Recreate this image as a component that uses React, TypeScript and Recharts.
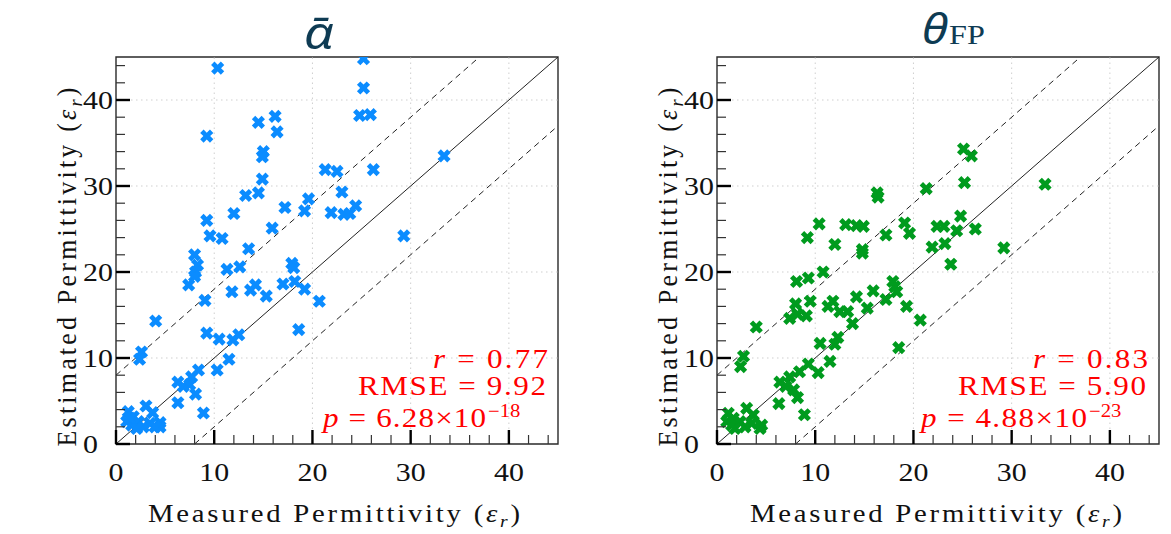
import React from 'react';
import { ScatterChart, Scatter, XAxis, YAxis, ReferenceLine, ReferenceArea } from 'recharts';

// ---------- data ----------
const alphaMeasured = [
  10.35, 9.24, 14.5, 16.2, 16.4, 15.0, 14.9, 14.9, 14.5, 13.2, 12.0, 17.2, 19.2, 19.6, 21.3, 22.5, 23.0, 21.9,
  9.24, 9.57, 10.8, 15.9, 13.5, 25.2, 25.2, 24.8, 25.9, 26.2, 23.2, 23.8, 24.4, 33.4, 29.3,
  8.0, 8.3, 8.1, 8.0, 7.4, 11.3, 12.6, 17.9, 18.1, 9.06, 4.04, 11.8, 13.7, 14.2, 15.3, 17.0, 18.2, 19.2, 20.7, 18.6,
  9.24, 10.5, 11.9, 12.5, 11.5, 10.3, 2.6, 2.4, 8.4, 7.7, 6.3, 6.85, 7.5, 8.1, 6.3, 8.9,
  1.25, 1.76, 3.05, 3.73, 1.09, 1.6, 2.27, 2.78, 3.46, 4.48, 4.48, 3.97, 2.1, 1.4,
];
const alphaEstimated = [
  43.7, 35.8, 37.4, 38.1, 36.3, 34.0, 33.4, 30.8, 29.2, 28.9, 26.8, 27.5, 27.1, 28.5, 31.9, 31.7, 29.3, 26.9,
  26.0, 24.2, 23.9, 25.1, 22.7, 44.8, 41.4, 38.2, 38.3, 31.9, 26.7, 26.8, 27.7, 33.5, 24.2,
  22.0, 20.8, 20.0, 19.5, 18.5, 20.3, 20.6, 21.0, 20.5, 16.7, 14.3, 17.7, 17.9, 18.5, 17.2, 18.6, 18.9, 18.0, 16.6, 13.3,
  12.9, 12.2, 12.1, 12.7, 9.85, 8.6, 10.7, 9.85, 8.6, 7.8, 7.2, 6.7, 6.9, 5.8, 4.8, 3.6,
  3.76, 3.17, 4.42, 3.64, 2.6, 2.2, 2.6, 2.0, 2.4, 2.48, 2.0, 2.0, 1.8, 3.0,
];
const thetaMeasured = [
  21.3, 16.3, 16.4, 10.4, 13.1, 14.2, 14.9, 9.2, 12.0, 17.2, 19.1, 19.6, 21.9, 22.4, 14.8, 14.8,
  25.1, 25.9, 25.2, 33.4, 24.8, 23.1, 24.4, 26.3, 23.2, 29.2, 23.8,
  10.8, 9.3, 8.1, 8.0, 7.4, 8.2, 9.1, 9.5, 4.0, 2.7, 2.4,
  11.3, 11.8, 12.5, 13.3, 13.8, 14.2, 15.3, 15.9, 17.2, 17.9, 18.1, 18.3, 19.3, 20.7, 18.5,
  10.5, 12.3, 12.0, 11.5, 10.3, 9.3, 8.4, 7.4, 6.4, 7.0, 7.8, 8.2, 6.3, 8.9,
  1.15, 1.66, 3.02, 3.7, 0.99, 1.5, 2.34, 2.85, 3.53, 4.55, 4.38, 1.83,
];
const thetaEstimated = [
  29.7, 29.2, 28.7, 25.6, 25.5, 25.4, 25.3, 24.0, 23.2, 24.3, 25.7, 24.5, 22.9, 25.3, 22.6, 22.2,
  34.3, 33.5, 30.4, 30.2, 26.5, 25.3, 24.8, 25.0, 23.3, 22.8, 20.9,
  20.0, 19.3, 18.9, 16.3, 14.6, 15.1, 14.9, 16.6, 13.6, 10.2, 9.0,
  16.0, 16.6, 15.4, 15.4, 14.0, 17.1, 15.8, 17.8, 16.8, 18.9, 18.3, 17.7, 16.0, 14.4, 11.2,
  11.7, 12.4, 11.6, 9.6, 8.3, 9.3, 8.4, 7.8, 7.2, 6.7, 6.3, 5.4, 4.7, 3.4,
  3.57, 2.99, 4.15, 3.37, 2.6, 2.2, 2.6, 2.0, 2.4, 2.2, 1.8, 1.8,
];

const axisDomain = [0, 45];
const majorTicks = [0, 10, 20, 30, 40];
const allTicks = [0, 2, 4, 6, 8, 10, 12, 14, 16, 18, 20, 22, 24, 26, 28, 30, 32, 34, 36, 38, 40, 42, 44];
const gridTicks = [10, 20, 30, 40];
const identityLine = [{ x: 0, y: 0 }, { x: 45, y: 45 }];
const upperBand = [{ x: 0, y: 8 }, { x: 37, y: 45 }];
const lowerBand = [{ x: 8, y: 0 }, { x: 45, y: 37 }];

const alphaStats = { r: '0.77', rmse: '9.92', p: '6.28', exp: '−18' };
const thetaStats = { r: '0.83', rmse: '5.90', p: '4.88', exp: '−23' };

const BLUE = '#0b8cff';
const GREEN = '#009b1e';
const RED = '#ff0000';
const TITLE = '#0e3b53';
const SERIF = 'Liberation Serif, DejaVu Serif, serif';
const SANS = 'Noto Sans, DejaVu Sans, sans-serif';
const SX = 1.15;

// ---------- marker ----------
const ARM = 2.4;
const LEN = 6.9;
const plusPts = [
  [ARM, LEN], [ARM, ARM], [LEN, ARM], [LEN, -ARM], [ARM, -ARM], [ARM, -LEN],
  [-ARM, -LEN], [-ARM, -ARM], [-LEN, -ARM], [-LEN, ARM], [-ARM, ARM], [-ARM, LEN],
];
const xPts = plusPts.map(([a, b]) => [(a - b) / Math.SQRT2, (a + b) / Math.SQRT2]);

const makeMarker = (color: string) => (props: any) => {
  const { cx, cy } = props;
  if (cx == null || cy == null) return <g />;
  const d = xPts.map(([a, b], i) => `${i ? 'L' : 'M'}${(cx + a).toFixed(2)} ${(cy + b).toFixed(2)}`).join(' ') + ' Z';
  return <path d={d} fill={color} />;
};

// ---------- ticks ----------
const XTick = (props: any) => {
  const { x, y, payload } = props;
  const v = payload.value;
  const major = majorTicks.includes(v);
  return (
    <g>
      <line x1={x} x2={x} y1={y} y2={y - (major ? 14 : 9)} stroke={major ? '#000' : '#333'} strokeWidth={major ? 2.4 : 1.2} />
      {major && (
        <text transform={`translate(${x} ${y + 37}) scale(${SX} 1)`} textAnchor="middle" fontSize={26} fontFamily={SERIF} fill="#111">
          {v}
        </text>
      )}
    </g>
  );
};

const YTick = (props: any) => {
  const { x, y, payload } = props;
  const v = payload.value;
  const major = majorTicks.includes(v);
  return (
    <g>
      <line x1={x} x2={x + (major ? 14 : 9)} y1={y} y2={y} stroke={major ? '#000' : '#333'} strokeWidth={major ? 2.4 : 1.2} />
      {major && (
        <text transform={`translate(${x - 33} ${y + 9}) scale(${SX} 1)`} textAnchor="start" fontSize={26} fontFamily={SERIF} fill="#111">
          {v}
        </text>
      )}
    </g>
  );
};

// ---------- panel ----------
function Panel({ xs, ys, color, width, margin }: any) {
  const data = xs.map((x: number, i: number) => ({ x, y: ys[i] }));
  return (
    <ScatterChart width={width} height={534} margin={margin}>
      <XAxis type="number" dataKey="x" domain={axisDomain} ticks={allTicks} interval={0} tick={<XTick />}
        tickLine={false} axisLine={false} tickSize={0} tickMargin={0} height={40} allowDataOverflow />
      <YAxis type="number" dataKey="y" domain={axisDomain} ticks={allTicks} interval={0} tick={<YTick />}
        tickLine={false} axisLine={false} tickSize={0} tickMargin={0} width={40} allowDataOverflow />
      {gridTicks.map((t) => (
        <ReferenceLine key={'gx' + t} x={t} stroke="#cfcfcf" strokeDasharray="1.5 3.5" strokeWidth={1} />
      ))}
      {gridTicks.map((t) => (
        <ReferenceLine key={'gy' + t} y={t} stroke="#cfcfcf" strokeDasharray="1.5 3.5" strokeWidth={1} />
      ))}
      <ReferenceLine segment={identityLine} stroke="#222" strokeWidth={1} />
      <ReferenceLine segment={upperBand} stroke="#222" strokeWidth={1} strokeDasharray="6 4.5" />
      <ReferenceLine segment={lowerBand} stroke="#222" strokeWidth={1} strokeDasharray="6 4.5" />
      <Scatter data={data} shape={makeMarker(color)} isAnimationActive={false} />
      <ReferenceArea x1={0} x2={45} y1={0} y2={45} fill="none" stroke="#2a2a2a" strokeWidth={1.4} />
    </ScatterChart>
  );
}

// ---------- text helpers ----------
function SText({ x, y, anchor = 'start', size, width, fill = '#111', children, family = SERIF }: any) {
  return (
    <text transform={`translate(${x} ${y}) scale(${SX} 1)`} textAnchor={anchor} fontSize={size} fontFamily={family}
      fill={fill} textLength={width ? width / SX : undefined} lengthAdjust={width ? 'spacing' : undefined}>
      {children}
    </text>
  );
}

function Stats({ stats, right, pStart, supStart }: any) {
  return (
    <g>
      <SText x={right} y={368} anchor="end" size={27} fill={RED} width={115}>
        <tspan fontStyle="italic">r</tspan> = {stats.r}
      </SText>
      <SText x={right - 2} y={395} anchor="end" size={27} fill={RED} width={188}>
        RMSE = {stats.rmse}
      </SText>
      <SText x={pStart} y={427} anchor="start" size={27} fill={RED} width={supStart - pStart - 2}>
        <tspan fontStyle="italic">p</tspan> = {stats.p}×10
      </SText>
      <SText x={supStart} y={417} anchor="start" size={18} fill={RED}>
        {stats.exp}
      </SText>
    </g>
  );
}

function XLabel({ cx }: any) {
  return (
    <SText x={cx} y={522} anchor="middle" size={25} width={372}>
      Measured Permittivity (<tspan fontStyle="italic">ε</tspan>
      <tspan fontStyle="italic" fontSize={17} dy={5}>r</tspan>
      <tspan dy={-5}>)</tspan>
    </SText>
  );
}

function YLabel({ x, cy }: any) {
  return (
    <text transform={`translate(${x} ${cy}) rotate(-90) scale(1.08 1.1)`} textAnchor="middle" fontSize={24} fontFamily={SERIF}
      fill="#111" textLength={359 / 1.08} lengthAdjust="spacing">
      Estimated Permittivity (<tspan fontStyle="italic">ε</tspan>
      <tspan fontStyle="italic" fontSize={17} dy={5}>r</tspan>
      <tspan dy={-5}>)</tspan>
    </text>
  );
}

export default function App() {
  return (
    <div style={{ position: 'absolute', left: 0, top: 0, width: 1171, height: 534, background: '#fff' }}>
      <div style={{ position: 'absolute', left: 0, top: 0 }}>
        <Panel xs={alphaMeasured} ys={alphaEstimated} color={BLUE} width={600}
          margin={{ top: 57, right: 42, bottom: 50, left: 76 }} />
      </div>
      <div style={{ position: 'absolute', left: 600, top: 0 }}>
        <Panel xs={thetaMeasured} ys={thetaEstimated} color={GREEN} width={571}
          margin={{ top: 57, right: 12, bottom: 50, left: 77 }} />
      </div>
      <svg width={1171} height={534} style={{ position: 'absolute', left: 0, top: 0, pointerEvents: 'none' }}>
        {/* titles */}
        <text transform={`translate(319 49) scale(${SX} 1)`} textAnchor="middle" fontSize={46} fontFamily={SANS}
          fontStyle="italic" fill={TITLE}>ᾱ</text>
        <text transform={`translate(922 44) scale(${SX} 1)`} textAnchor="start" fontFamily={SANS} fill={TITLE}>
          <tspan fontSize={42} fontStyle="italic">θ</tspan>
          <tspan fontSize={28} fontFamily={SERIF} dx={1}>FP</tspan>
        </text>
        <Stats stats={alphaStats} right={548} pStart={323} supStart={488} />
        <Stats stats={thetaStats} right={1148} pStart={921} supStart={1089} />
        <XLabel cx={334} />
        <XLabel cx={936} />
        <YLabel x={76} cy={267} />
        <YLabel x={677} cy={267} />
      </svg>
    </div>
  );
}
